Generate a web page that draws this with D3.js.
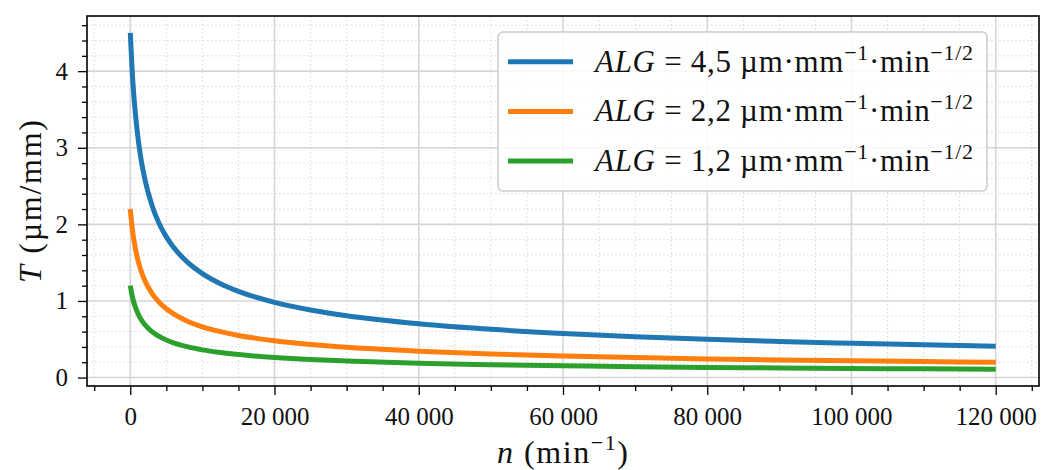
<!DOCTYPE html>
<html><head><meta charset="utf-8">
<script src="https://cdn.jsdelivr.net/npm/d3@7"></script>
<style>
body{margin:0;background:#fff;}
svg text{font-family:"Liberation Serif","DejaVu Serif",serif;fill:#111;}
</style></head>
<body><svg id="c" width="1042" height="470"></svg>
<script>
// n (min^-1)
const nValues = [0,250,500,1000,1500,2000,3000,4000,5000,6000,8000,10000,12500,15000,20000,25000,30000,40000,50000,60000,70000,80000,90000,100000,110000,120000];
// T (µm/mm) per series
const tBlue   = [4.50,4.025,3.674,3.182,2.846,2.598,2.25,2.012,1.837,1.701,1.50,1.357,1.225,1.125,0.982,0.883,0.808,0.703,0.630,0.576,0.534,0.50,0.472,0.448,0.427,0.409];
const tOrange = [2.20,1.968,1.796,1.556,1.391,1.270,1.10,0.984,0.898,0.832,0.733,0.663,0.599,0.55,0.480,0.431,0.395,0.344,0.308,0.282,0.261,0.244,0.231,0.219,0.209,0.20];
const tGreen  = [1.20,1.073,0.980,0.849,0.759,0.693,0.60,0.537,0.490,0.454,0.40,0.362,0.327,0.30,0.262,0.235,0.216,0.187,0.168,0.154,0.142,0.133,0.126,0.119,0.114,0.109];
const seriesNames = ["4,5","2,2","1,2"];
const seriesColors = ["#1f77b4","#ff7f0e","#2ca02c"];
const xTicks = [0,20000,40000,60000,80000,100000,120000];
const yTicks = [0,1,2,3,4];

const svg = d3.select("#c");
const L=87, R=1039, T=16, B=386;
const x = d3.scaleLinear().domain([-6000,126000]).range([L,R]);
const y = d3.scaleLinear().domain([-0.11,4.72]).range([B,T]);

const xMinor = d3.range(-5000,126001,5000).filter(v=>v%20000!==0);
const yMinor = d3.range(0,4.71,0.2).map(v=>+v.toFixed(1)).filter(v=>Math.abs(v-Math.round(v))>1e-6);

const g = svg.append("g");
// minor grid
g.selectAll(".mgx").data(xMinor).join("line").attr("x1",d=>x(d)).attr("x2",d=>x(d)).attr("y1",T).attr("y2",B)
 .attr("stroke","#d8d8d8").attr("stroke-width",1).attr("stroke-dasharray","1.5,2.5");
g.selectAll(".mgy").data(yMinor).join("line").attr("y1",d=>y(d)).attr("y2",d=>y(d)).attr("x1",L).attr("x2",R)
 .attr("stroke","#d8d8d8").attr("stroke-width",1).attr("stroke-dasharray","1.5,2.5");
// major grid
g.selectAll(".Mgx").data(xTicks).join("line").attr("x1",d=>x(d)).attr("x2",d=>x(d)).attr("y1",T).attr("y2",B)
 .attr("stroke","#d6d6d6").attr("stroke-width",1.6);
g.selectAll(".Mgy").data(yTicks).join("line").attr("y1",d=>y(d)).attr("y2",d=>y(d)).attr("x1",L).attr("x2",R)
 .attr("stroke","#d6d6d6").attr("stroke-width",1.6);

// lines
const series=[tBlue,tOrange,tGreen];
const line = d3.line().x((d,i)=>x(nValues[i])).y(d=>y(d)).curve(d3.curveMonotoneX);
series.forEach((s,k)=>{
  svg.append("path").datum(s).attr("d",line).attr("fill","none")
    .attr("stroke",seriesColors[k]).attr("stroke-width",5);
});

// axes
const fmt = d=> d===0?"0":d3.format(",")(d).replace(/,/g,"\u00a0");
const xAxis = svg.append("g").attr("transform",`translate(0,${B})`)
  .call(d3.axisBottom(x).tickValues(xTicks).tickFormat(fmt).tickSize(9).tickPadding(12));
const xAxisMinor = svg.append("g").attr("transform",`translate(0,${B})`)
  .call(d3.axisBottom(x).tickValues(xMinor).tickFormat("").tickSize(5));
const yAxis = svg.append("g").attr("transform",`translate(${L},0)`)
  .call(d3.axisLeft(y).tickValues(yTicks).tickFormat(d3.format("d")).tickSize(9).tickPadding(10));
const yAxisMinor = svg.append("g").attr("transform",`translate(${L},0)`)
  .call(d3.axisLeft(y).tickValues(yMinor).tickFormat("").tickSize(5));
[xAxis,xAxisMinor,yAxis,yAxisMinor].forEach(a=>{
  a.select(".domain").remove();
  a.selectAll(".tick line").attr("stroke","#000").attr("stroke-width",1.3);
  a.selectAll("text").style("font-size","25px").attr("fill","#111");
});
// frame
svg.append("rect").attr("x",L).attr("y",T).attr("width",R-L).attr("height",B-T)
  .attr("fill","none").attr("stroke","#000").attr("stroke-width",1.6);

// axis labels
const xl = svg.append("text").attr("x",497).attr("y",463).style("font-size","32px")
  .attr("textLength",131).attr("lengthAdjust","spacing");
xl.append("tspan").attr("font-style","italic").text("n");
xl.append("tspan").text(" (min");
xl.append("tspan").attr("dy",-13).style("font-size","22px").text("\u22121");
xl.append("tspan").attr("dy",13).text(")");

const yl = svg.append("text").attr("transform",`translate(41,283) rotate(-90)`).style("font-size","32px")
  .attr("textLength",163).attr("lengthAdjust","spacing");
yl.append("tspan").attr("font-style","italic").text("T");
yl.append("tspan").text(" (µm/mm)");

// legend
const lg = svg.append("g");
lg.append("rect").attr("x",498).attr("y",32).attr("width",489).attr("height",159).attr("rx",5)
  .attr("fill","rgba(255,255,255,0.85)").attr("stroke","#cccccc").attr("stroke-width",1.5);
seriesNames.forEach((nm,k)=>{
  const yy = 61.7 + k*49.7;
  lg.append("line").attr("x1",508).attr("x2",573).attr("y1",yy).attr("y2",yy)
    .attr("stroke",seriesColors[k]).attr("stroke-width",5);
  const t = lg.append("text").attr("x",595).attr("y",yy+10).style("font-size","31px")
    .attr("textLength",378).attr("lengthAdjust","spacing");
  t.append("tspan").attr("font-style","italic").text("ALG");
  t.append("tspan").text(" = "+nm+" µm·mm");
  t.append("tspan").attr("dy",-12).style("font-size","22px").text("\u22121");
  t.append("tspan").attr("dy",12).text("·min");
  t.append("tspan").attr("dy",-12).style("font-size","22px").text("\u22121/2");
});
</script></body></html>
